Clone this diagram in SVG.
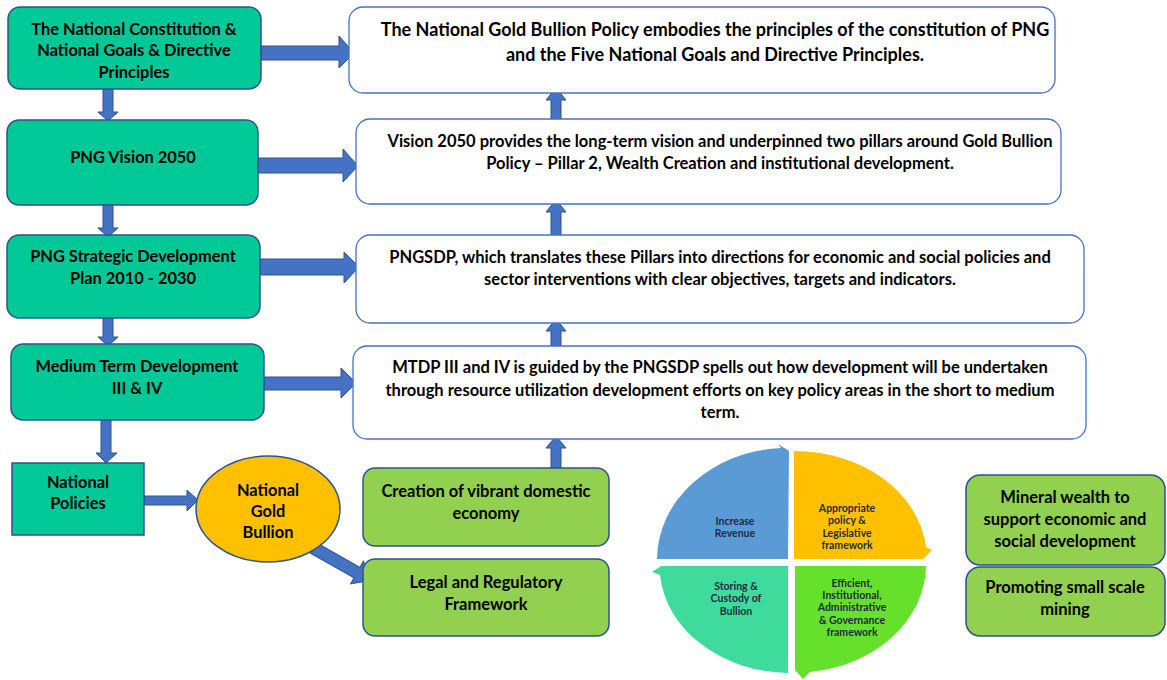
<svg xmlns="http://www.w3.org/2000/svg" width="1167" height="680" viewBox="0 0 1167 680">
<style>
.tn{fill:#00C897;stroke:#2F528F;stroke-width:1.5}
.wb{fill:#FFFFFF;stroke:#4472C4;stroke-width:1.3}
.gb{fill:#92D050;stroke:#2F528F;stroke-width:1.5}
.ar{fill:#4472C4;stroke:#2F528F;stroke-width:1}
text{font-family:Lato,"Liberation Sans",sans-serif;font-weight:bold;fill:#000;text-anchor:middle}
.t16{font-size:16.4px}
.t165{font-size:16.5px}
.t18{font-size:18px}
.ps{font-size:10.5px;fill:#1F2A44}
</style>
<rect width="1167" height="680" fill="#FFFFFF"/>
<g id="connectors">
<polygon class="ar" points="103,89 113,89 113,112 118,112 108,121 98,112 103,112"/>
<polygon class="ar" points="103,205 113,205 113,228 118,228 108,237 98,228 103,228"/>
<polygon class="ar" points="103,318 113,318 113,337 118,337 108,346 98,337 103,337"/>
<polygon class="ar" points="101,420 111,420 111,453 117,453 106,463 96,453 101,453"/>
<polygon class="ar" points="261,46 339,46 339,36 354,53 339,68 339,60 261,60"/>
<polygon class="ar" points="258,158 343,158 343,149 358,166 343,182 343,173 258,173"/>
<polygon class="ar" points="260,259 344,259 344,252 359,267 344,283 344,275 260,275"/>
<polygon class="ar" points="264,377 341,377 341,368 356,383 341,398 341,390 264,390"/>
<polygon class="ar" points="144,496 187,496 187,490 198,500 187,511 187,505 144,505"/>
<polygon class="ar" transform="translate(310,546) rotate(29.5)" points="0,-6 54,-6 54,-13 70,0 54,13 54,6 0,6"/>
<polygon class="ar" points="551,119 551,100 546,100 556,88 566,100 561,100 561,119"/>
<polygon class="ar" points="551,235 551,212 546,212 556,200 566,212 561,212 561,235"/>
<polygon class="ar" points="551,346 551,331 546,331 556,319 566,331 561,331 561,346"/>
<polygon class="ar" points="551,468 551,448 546,448 556,436 566,448 561,448 561,468"/>
</g>
<g id="n1"><rect class="tn" x="8" y="7" width="253" height="82" rx="12"/>
<text class="t16" x="134" y="35">The National Constitution &amp;</text>
<text class="t16" x="134" y="56">National Goals &amp; Directive</text>
<text class="t16" x="134" y="78">Principles</text></g>
<g id="n2"><rect class="tn" x="7" y="120" width="251" height="85" rx="12"/>
<text class="t16" x="133" y="163">PNG Vision 2050</text></g>
<g id="n3"><rect class="tn" x="7" y="235" width="253" height="83" rx="12"/>
<text class="t16" x="133" y="262">PNG Strategic Development</text>
<text class="t16" x="133" y="284">Plan 2010 - 2030</text></g>
<g id="n4"><rect class="tn" x="11" y="344" width="253" height="76" rx="12"/>
<text class="t16" x="137" y="372">Medium Term Development</text>
<text class="t16" x="137" y="394">III &amp; IV</text></g>
<g id="n5"><rect class="tn" x="12" y="463" width="132" height="72"/>
<text class="t16" x="78" y="488">National</text>
<text class="t16" x="78" y="509">Policies</text></g>
<g id="n6"><ellipse cx="268" cy="509" rx="72" ry="53" fill="#FFC000" stroke="#2F528F" stroke-width="1.5"/>
<text class="t16" x="268" y="496">National</text>
<text class="t16" x="268" y="517">Gold</text>
<text class="t16" x="268" y="538">Bullion</text></g>
<g id="r1"><rect class="wb" x="349" y="7" width="706" height="86" rx="14"/>
<text class="t18" x="715" y="36">The National Gold Bullion Policy embodies the principles of the constitution of PNG</text>
<text class="t18" x="715" y="61">and the Five National Goals and Directive Principles.</text></g>
<g id="r2"><rect class="wb" x="356" y="119" width="705" height="85" rx="14"/>
<text class="t165" x="720" y="147">Vision 2050 provides the long-term vision and underpinned two pillars around Gold Bullion</text>
<text class="t165" x="720" y="169">Policy – Pillar 2, Wealth Creation and institutional development.</text></g>
<g id="r3"><rect class="wb" x="356" y="235" width="728" height="88" rx="14"/>
<text class="t165" x="720" y="263">PNGSDP, which translates these Pillars into directions for economic and social policies and</text>
<text class="t165" x="720" y="285">sector interventions with clear objectives, targets and indicators.</text></g>
<g id="r4"><rect class="wb" x="353" y="346" width="733" height="93" rx="14"/>
<text class="t165" x="720" y="373">MTDP III and IV is guided by the PNGSDP spells out how development will be undertaken</text>
<text class="t165" x="720" y="396">through resource utilization development efforts on key policy areas in the short to medium</text>
<text class="t165" x="720" y="418">term.</text></g>
<g id="g1"><rect class="gb" x="363" y="468" width="246" height="78" rx="12"/>
<text class="t165" x="486" y="497">Creation of vibrant domestic</text>
<text class="t165" x="486" y="519">economy</text></g>
<g id="g2"><rect class="gb" x="363" y="559" width="246" height="77" rx="12"/>
<text class="t165" x="486" y="588">Legal and Regulatory</text>
<text class="t165" x="486" y="610">Framework</text></g>
<g id="g3"><rect class="gb" x="966" y="475" width="199" height="90" rx="14"/>
<text class="t165" x="1065" y="503">Mineral wealth to</text>
<text class="t165" x="1065" y="525">support economic and</text>
<text class="t165" x="1065" y="547">social development</text></g>
<g id="g4"><rect class="gb" x="966" y="567" width="199" height="69" rx="14"/>
<text class="t165" x="1065" y="593">Promoting small scale</text>
<text class="t165" x="1065" y="615">mining</text></g>
<g id="pie">
<path d="M657,559 A131,112 0 0 1 781,448 L778,444 L789,451 L788,559 Z" fill="#5B9BD5"/>
<path d="M794,451 A132,107 0 0 1 926,547 L932,550 L923,559 L794,559 Z" fill="#FFC000"/>
<path d="M795,566 L926,566 A131,108 0 0 1 810,672 L803,679 L795,670 Z" fill="#66E12B"/>
<path d="M788,566 L788,673 A131,107 0 0 1 660,575 L652,572 L661,566 Z" fill="#3FDB9C"/>
<text class="ps" x="735" y="525">Increase</text>
<text class="ps" x="735" y="537">Revenue</text>
<text class="ps" x="847" y="512">Appropriate</text>
<text class="ps" x="847" y="524">policy &amp;</text>
<text class="ps" x="847" y="537">Legislative</text>
<text class="ps" x="847" y="549">framework</text>
<text class="ps" x="736" y="590">Storing &amp;</text>
<text class="ps" x="736" y="602">Custody of</text>
<text class="ps" x="736" y="615">Bullion</text>
<text class="ps" x="852" y="587">Efficient,</text>
<text class="ps" x="852" y="599">Institutional,</text>
<text class="ps" x="852" y="611">Administrative</text>
<text class="ps" x="852" y="624">&amp; Governance</text>
<text class="ps" x="852" y="636">framework</text>
</g>
</svg>
